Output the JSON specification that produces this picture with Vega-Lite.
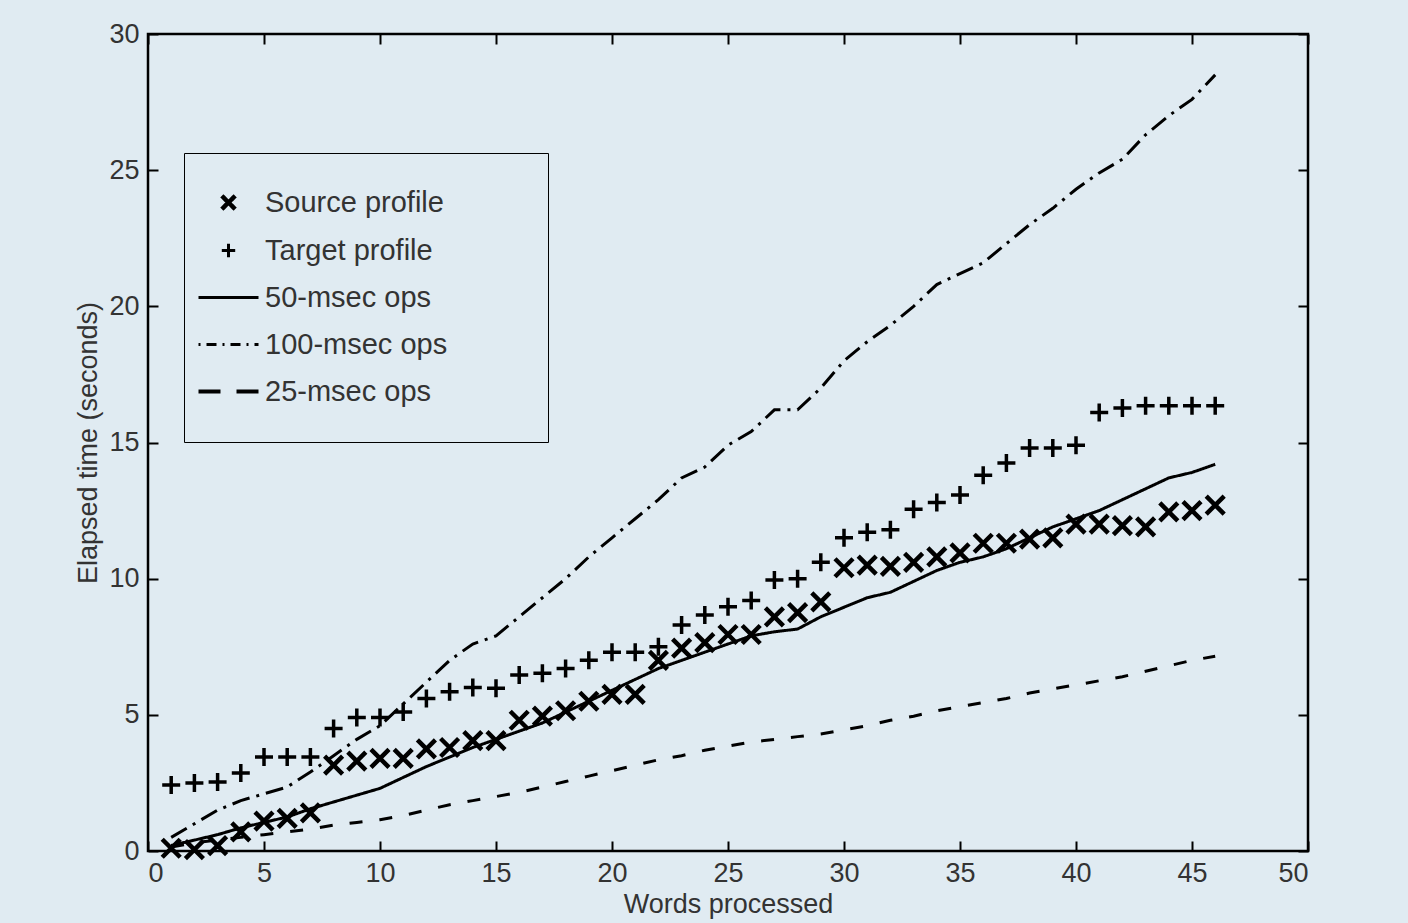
{
  "$schema": "https://vega.github.io/schema/vega-lite/v6.json",
  "width": 1160,
  "height": 817,
  "autosize": "none",
  "padding": {"left": 148, "top": 34, "right": 100, "bottom": 72},
  "background": "#e0ebf2",
  "config": {
    "font": "Liberation Sans",
    "view": {"stroke": "black", "strokeWidth": 2.5},
    "axis": {
      "domain": false,
      "grid": false,
      "ticks": true,
      "tickColor": "black",
      "tickWidth": 2,
      "tickSize": -10,
      "labelFontSize": 27,
      "labelColor": "#333333",
      "labelPadding": 19,
      "titleFontSize": 27,
      "titleFontWeight": "normal",
      "titleColor": "#333333"
    }
  },
  "datasets": {
    "points": [
      {"series": "Source profile", "words": 1, "time": 0.1},
      {"series": "Source profile", "words": 2, "time": 0.05},
      {"series": "Source profile", "words": 3, "time": 0.2},
      {"series": "Source profile", "words": 4, "time": 0.7},
      {"series": "Source profile", "words": 5, "time": 1.1},
      {"series": "Source profile", "words": 6, "time": 1.2},
      {"series": "Source profile", "words": 7, "time": 1.4},
      {"series": "Source profile", "words": 8, "time": 3.15},
      {"series": "Source profile", "words": 9, "time": 3.3},
      {"series": "Source profile", "words": 10, "time": 3.4},
      {"series": "Source profile", "words": 11, "time": 3.4},
      {"series": "Source profile", "words": 12, "time": 3.75},
      {"series": "Source profile", "words": 13, "time": 3.8},
      {"series": "Source profile", "words": 14, "time": 4.05},
      {"series": "Source profile", "words": 15, "time": 4.05},
      {"series": "Source profile", "words": 16, "time": 4.8},
      {"series": "Source profile", "words": 17, "time": 4.95},
      {"series": "Source profile", "words": 18, "time": 5.15},
      {"series": "Source profile", "words": 19, "time": 5.5},
      {"series": "Source profile", "words": 20, "time": 5.75},
      {"series": "Source profile", "words": 21, "time": 5.75},
      {"series": "Source profile", "words": 22, "time": 7.0},
      {"series": "Source profile", "words": 23, "time": 7.45},
      {"series": "Source profile", "words": 24, "time": 7.65},
      {"series": "Source profile", "words": 25, "time": 7.95},
      {"series": "Source profile", "words": 26, "time": 7.95},
      {"series": "Source profile", "words": 27, "time": 8.6},
      {"series": "Source profile", "words": 28, "time": 8.75},
      {"series": "Source profile", "words": 29, "time": 9.15},
      {"series": "Source profile", "words": 30, "time": 10.4},
      {"series": "Source profile", "words": 31, "time": 10.5},
      {"series": "Source profile", "words": 32, "time": 10.45},
      {"series": "Source profile", "words": 33, "time": 10.6},
      {"series": "Source profile", "words": 34, "time": 10.8},
      {"series": "Source profile", "words": 35, "time": 10.95},
      {"series": "Source profile", "words": 36, "time": 11.3},
      {"series": "Source profile", "words": 37, "time": 11.3},
      {"series": "Source profile", "words": 38, "time": 11.45},
      {"series": "Source profile", "words": 39, "time": 11.5},
      {"series": "Source profile", "words": 40, "time": 12.0},
      {"series": "Source profile", "words": 41, "time": 12.0},
      {"series": "Source profile", "words": 42, "time": 11.95},
      {"series": "Source profile", "words": 43, "time": 11.9},
      {"series": "Source profile", "words": 44, "time": 12.45},
      {"series": "Source profile", "words": 45, "time": 12.5},
      {"series": "Source profile", "words": 46, "time": 12.7},
      {"series": "Target profile", "words": 1, "time": 2.42},
      {"series": "Target profile", "words": 2, "time": 2.5},
      {"series": "Target profile", "words": 3, "time": 2.53},
      {"series": "Target profile", "words": 4, "time": 2.86},
      {"series": "Target profile", "words": 5, "time": 3.45},
      {"series": "Target profile", "words": 6, "time": 3.45},
      {"series": "Target profile", "words": 7, "time": 3.45},
      {"series": "Target profile", "words": 8, "time": 4.5},
      {"series": "Target profile", "words": 9, "time": 4.9},
      {"series": "Target profile", "words": 10, "time": 4.9},
      {"series": "Target profile", "words": 11, "time": 5.1},
      {"series": "Target profile", "words": 12, "time": 5.6},
      {"series": "Target profile", "words": 13, "time": 5.85},
      {"series": "Target profile", "words": 14, "time": 6.0},
      {"series": "Target profile", "words": 15, "time": 5.98},
      {"series": "Target profile", "words": 16, "time": 6.46},
      {"series": "Target profile", "words": 17, "time": 6.53},
      {"series": "Target profile", "words": 18, "time": 6.7},
      {"series": "Target profile", "words": 19, "time": 7.0},
      {"series": "Target profile", "words": 20, "time": 7.3},
      {"series": "Target profile", "words": 21, "time": 7.3},
      {"series": "Target profile", "words": 22, "time": 7.5},
      {"series": "Target profile", "words": 23, "time": 8.3},
      {"series": "Target profile", "words": 24, "time": 8.67},
      {"series": "Target profile", "words": 25, "time": 8.97},
      {"series": "Target profile", "words": 26, "time": 9.2},
      {"series": "Target profile", "words": 27, "time": 9.95},
      {"series": "Target profile", "words": 28, "time": 10.0},
      {"series": "Target profile", "words": 29, "time": 10.6},
      {"series": "Target profile", "words": 30, "time": 11.5},
      {"series": "Target profile", "words": 31, "time": 11.7},
      {"series": "Target profile", "words": 32, "time": 11.8},
      {"series": "Target profile", "words": 33, "time": 12.55},
      {"series": "Target profile", "words": 34, "time": 12.8},
      {"series": "Target profile", "words": 35, "time": 13.07},
      {"series": "Target profile", "words": 36, "time": 13.8},
      {"series": "Target profile", "words": 37, "time": 14.25},
      {"series": "Target profile", "words": 38, "time": 14.8},
      {"series": "Target profile", "words": 39, "time": 14.8},
      {"series": "Target profile", "words": 40, "time": 14.9},
      {"series": "Target profile", "words": 41, "time": 16.1},
      {"series": "Target profile", "words": 42, "time": 16.27},
      {"series": "Target profile", "words": 43, "time": 16.35},
      {"series": "Target profile", "words": 44, "time": 16.35},
      {"series": "Target profile", "words": 45, "time": 16.35},
      {"series": "Target profile", "words": 46, "time": 16.35}
    ],
    "lines": [
      {"series": "50-msec ops", "words": 1, "time": 0.2},
      {"series": "50-msec ops", "words": 2, "time": 0.4},
      {"series": "50-msec ops", "words": 3, "time": 0.6},
      {"series": "50-msec ops", "words": 4, "time": 0.85},
      {"series": "50-msec ops", "words": 5, "time": 1.05},
      {"series": "50-msec ops", "words": 6, "time": 1.25},
      {"series": "50-msec ops", "words": 7, "time": 1.55},
      {"series": "50-msec ops", "words": 8, "time": 1.8},
      {"series": "50-msec ops", "words": 9, "time": 2.05},
      {"series": "50-msec ops", "words": 10, "time": 2.3},
      {"series": "50-msec ops", "words": 11, "time": 2.7},
      {"series": "50-msec ops", "words": 12, "time": 3.1},
      {"series": "50-msec ops", "words": 13, "time": 3.45},
      {"series": "50-msec ops", "words": 14, "time": 3.8},
      {"series": "50-msec ops", "words": 15, "time": 4.1},
      {"series": "50-msec ops", "words": 16, "time": 4.4},
      {"series": "50-msec ops", "words": 17, "time": 4.7},
      {"series": "50-msec ops", "words": 18, "time": 5.1},
      {"series": "50-msec ops", "words": 19, "time": 5.5},
      {"series": "50-msec ops", "words": 20, "time": 5.9},
      {"series": "50-msec ops", "words": 21, "time": 6.3},
      {"series": "50-msec ops", "words": 22, "time": 6.7},
      {"series": "50-msec ops", "words": 23, "time": 7.0},
      {"series": "50-msec ops", "words": 24, "time": 7.3},
      {"series": "50-msec ops", "words": 25, "time": 7.6},
      {"series": "50-msec ops", "words": 26, "time": 7.9},
      {"series": "50-msec ops", "words": 27, "time": 8.05},
      {"series": "50-msec ops", "words": 28, "time": 8.15},
      {"series": "50-msec ops", "words": 29, "time": 8.6},
      {"series": "50-msec ops", "words": 30, "time": 8.95},
      {"series": "50-msec ops", "words": 31, "time": 9.3},
      {"series": "50-msec ops", "words": 32, "time": 9.5},
      {"series": "50-msec ops", "words": 33, "time": 9.9},
      {"series": "50-msec ops", "words": 34, "time": 10.3},
      {"series": "50-msec ops", "words": 35, "time": 10.6},
      {"series": "50-msec ops", "words": 36, "time": 10.8},
      {"series": "50-msec ops", "words": 37, "time": 11.1},
      {"series": "50-msec ops", "words": 38, "time": 11.5},
      {"series": "50-msec ops", "words": 39, "time": 11.9},
      {"series": "50-msec ops", "words": 40, "time": 12.2},
      {"series": "50-msec ops", "words": 41, "time": 12.5},
      {"series": "50-msec ops", "words": 42, "time": 12.9},
      {"series": "50-msec ops", "words": 43, "time": 13.3},
      {"series": "50-msec ops", "words": 44, "time": 13.7},
      {"series": "50-msec ops", "words": 45, "time": 13.9},
      {"series": "50-msec ops", "words": 46, "time": 14.2},
      {"series": "100-msec ops", "words": 1, "time": 0.5},
      {"series": "100-msec ops", "words": 2, "time": 1.0},
      {"series": "100-msec ops", "words": 3, "time": 1.5},
      {"series": "100-msec ops", "words": 4, "time": 1.85},
      {"series": "100-msec ops", "words": 5, "time": 2.1},
      {"series": "100-msec ops", "words": 6, "time": 2.35},
      {"series": "100-msec ops", "words": 7, "time": 2.9},
      {"series": "100-msec ops", "words": 8, "time": 3.5},
      {"series": "100-msec ops", "words": 9, "time": 4.1},
      {"series": "100-msec ops", "words": 10, "time": 4.6},
      {"series": "100-msec ops", "words": 11, "time": 5.4},
      {"series": "100-msec ops", "words": 12, "time": 6.2},
      {"series": "100-msec ops", "words": 13, "time": 7.0},
      {"series": "100-msec ops", "words": 14, "time": 7.6},
      {"series": "100-msec ops", "words": 15, "time": 7.9},
      {"series": "100-msec ops", "words": 16, "time": 8.6},
      {"series": "100-msec ops", "words": 17, "time": 9.3},
      {"series": "100-msec ops", "words": 18, "time": 10.0},
      {"series": "100-msec ops", "words": 19, "time": 10.8},
      {"series": "100-msec ops", "words": 20, "time": 11.5},
      {"series": "100-msec ops", "words": 21, "time": 12.2},
      {"series": "100-msec ops", "words": 22, "time": 12.9},
      {"series": "100-msec ops", "words": 23, "time": 13.7},
      {"series": "100-msec ops", "words": 24, "time": 14.1},
      {"series": "100-msec ops", "words": 25, "time": 14.9},
      {"series": "100-msec ops", "words": 26, "time": 15.4},
      {"series": "100-msec ops", "words": 27, "time": 16.2},
      {"series": "100-msec ops", "words": 28, "time": 16.2},
      {"series": "100-msec ops", "words": 29, "time": 17.0},
      {"series": "100-msec ops", "words": 30, "time": 18.0},
      {"series": "100-msec ops", "words": 31, "time": 18.7},
      {"series": "100-msec ops", "words": 32, "time": 19.3},
      {"series": "100-msec ops", "words": 33, "time": 20.0},
      {"series": "100-msec ops", "words": 34, "time": 20.8},
      {"series": "100-msec ops", "words": 35, "time": 21.2},
      {"series": "100-msec ops", "words": 36, "time": 21.6},
      {"series": "100-msec ops", "words": 37, "time": 22.3},
      {"series": "100-msec ops", "words": 38, "time": 23.0},
      {"series": "100-msec ops", "words": 39, "time": 23.6},
      {"series": "100-msec ops", "words": 40, "time": 24.3},
      {"series": "100-msec ops", "words": 41, "time": 24.9},
      {"series": "100-msec ops", "words": 42, "time": 25.4},
      {"series": "100-msec ops", "words": 43, "time": 26.3},
      {"series": "100-msec ops", "words": 44, "time": 27.0},
      {"series": "100-msec ops", "words": 45, "time": 27.6},
      {"series": "100-msec ops", "words": 46, "time": 28.5},
      {"series": "25-msec ops", "words": 1, "time": 0.15},
      {"series": "25-msec ops", "words": 2, "time": 0.3},
      {"series": "25-msec ops", "words": 3, "time": 0.4},
      {"series": "25-msec ops", "words": 4, "time": 0.5},
      {"series": "25-msec ops", "words": 5, "time": 0.6},
      {"series": "25-msec ops", "words": 6, "time": 0.7},
      {"series": "25-msec ops", "words": 7, "time": 0.8},
      {"series": "25-msec ops", "words": 8, "time": 0.95},
      {"series": "25-msec ops", "words": 9, "time": 1.05},
      {"series": "25-msec ops", "words": 10, "time": 1.15},
      {"series": "25-msec ops", "words": 11, "time": 1.3},
      {"series": "25-msec ops", "words": 12, "time": 1.5},
      {"series": "25-msec ops", "words": 13, "time": 1.7},
      {"series": "25-msec ops", "words": 14, "time": 1.85},
      {"series": "25-msec ops", "words": 15, "time": 2.0},
      {"series": "25-msec ops", "words": 16, "time": 2.15},
      {"series": "25-msec ops", "words": 17, "time": 2.35},
      {"series": "25-msec ops", "words": 18, "time": 2.55},
      {"series": "25-msec ops", "words": 19, "time": 2.75},
      {"series": "25-msec ops", "words": 20, "time": 2.95},
      {"series": "25-msec ops", "words": 21, "time": 3.15},
      {"series": "25-msec ops", "words": 22, "time": 3.35},
      {"series": "25-msec ops", "words": 23, "time": 3.5},
      {"series": "25-msec ops", "words": 24, "time": 3.7},
      {"series": "25-msec ops", "words": 25, "time": 3.85},
      {"series": "25-msec ops", "words": 26, "time": 4.0},
      {"series": "25-msec ops", "words": 27, "time": 4.1},
      {"series": "25-msec ops", "words": 28, "time": 4.2},
      {"series": "25-msec ops", "words": 29, "time": 4.3},
      {"series": "25-msec ops", "words": 30, "time": 4.45},
      {"series": "25-msec ops", "words": 31, "time": 4.6},
      {"series": "25-msec ops", "words": 32, "time": 4.8},
      {"series": "25-msec ops", "words": 33, "time": 4.95},
      {"series": "25-msec ops", "words": 34, "time": 5.15},
      {"series": "25-msec ops", "words": 35, "time": 5.3},
      {"series": "25-msec ops", "words": 36, "time": 5.45},
      {"series": "25-msec ops", "words": 37, "time": 5.6},
      {"series": "25-msec ops", "words": 38, "time": 5.8},
      {"series": "25-msec ops", "words": 39, "time": 5.95},
      {"series": "25-msec ops", "words": 40, "time": 6.1},
      {"series": "25-msec ops", "words": 41, "time": 6.25},
      {"series": "25-msec ops", "words": 42, "time": 6.4},
      {"series": "25-msec ops", "words": 43, "time": 6.6},
      {"series": "25-msec ops", "words": 44, "time": 6.8},
      {"series": "25-msec ops", "words": 45, "time": 7.0},
      {"series": "25-msec ops", "words": 46, "time": 7.15}
    ]
  },
  "layer": [
    {
      "data": {"name": "lines"},
      "mark": {"type": "line", "strokeWidth": 3, "strokeCap": "butt"},
      "encoding": {
        "x": {
          "field": "words", "type": "quantitative",
          "scale": {"domain": [0, 50], "nice": false, "zero": false},
          "axis": {"orient": "bottom", "values": [0, 5, 10, 15, 20, 25, 30, 35, 40, 45, 50], "title": "Words processed", "titlePadding": 5}
        },
        "y": {
          "field": "time", "type": "quantitative",
          "scale": {"domain": [0, 30], "nice": false},
          "axis": {"orient": "left", "values": [0, 5, 10, 15, 20, 25, 30], "title": "Elapsed time (seconds)", "titlePadding": 6}
        },
        "color": {
          "field": "series", "type": "nominal",
          "scale": {
            "domain": ["Source profile", "Target profile", "50-msec ops", "100-msec ops", "25-msec ops"],
            "range": ["black", "black", "black", "black", "black"]
          },
          "legend": {
            "orient": "none",
            "legendX": 36,
            "legendY": 119,
            "title": "\u00a0",
            "titleOrient": "right",
            "titleFontSize": 20,
            "titlePadding": 66,
            "strokeColor": "black",
            "padding": 35,
            "rowPadding": 17,
            "symbolSize": 400,
            "symbolOffset": -5,
            "symbolStrokeWidth": 3,
            "symbolFillColor": "transparent",
            "symbolStrokeColor": "black",
            "labelFontSize": 29,
            "labelLimit": 0,
            "labelColor": "#333333",
            "labelOffset": 22,
            "encode": {
              "symbols": {
                "update": {
                  "shape": {"signal": "datum.value === 'Source profile' ? 'M-1,-1L1,1M-1,1L1,-1' : datum.value === 'Target profile' ? 'M-1,0H1M0,-1V1' : 'stroke'"},
                  "size": {"signal": "datum.value === 'Source profile' || datum.value === 'Target profile' ? 180 : 3600"},
                  "strokeDash": {"signal": "datum.value === '100-msec ops' ? [2, 6, 10, 6] : datum.value === '25-msec ops' ? [22, 16] : [1, 0]"},
                  "strokeWidth": {"signal": "datum.value === 'Source profile' ? 4.5 : datum.value === '25-msec ops' ? 4 : 3"},
                  "fill": {"value": "transparent"}
                }
              }
            }
          }
        },
        "strokeDash": {
          "field": "series", "type": "nominal",
          "scale": {"domain": ["50-msec ops", "100-msec ops", "25-msec ops"], "range": [[1, 0], [18, 7, 3, 7], [13, 17]]},
          "legend": null
        }
      }
    },
    {
      "data": {"name": "points"},
      "mark": {"type": "point", "filled": false, "size": 324, "opacity": 1},
      "encoding": {
        "x": {
          "field": "words", "type": "quantitative",
          "axis": {"orient": "top", "values": [0, 5, 10, 15, 20, 25, 30, 35, 40, 45, 50], "labels": false, "title": null}
        },
        "y": {
          "field": "time", "type": "quantitative",
          "axis": {"orient": "right", "values": [0, 5, 10, 15, 20, 25, 30], "labels": false, "title": null}
        },
        "color": {"field": "series", "type": "nominal"},
        "shape": {
          "field": "series", "type": "nominal",
          "scale": {"domain": ["Source profile", "Target profile"], "range": ["M-1,-1L1,1M-1,1L1,-1", "M-1,0H1M0,-1V1"]},
          "legend": null
        },
        "strokeWidth": {
          "field": "series", "type": "nominal",
          "scale": {"domain": ["Source profile", "Target profile"], "range": [4.5, 3.5]},
          "legend": null
        }
      }
    }
  ],
  "resolve": {"axis": {"x": "independent", "y": "independent"}}
}
